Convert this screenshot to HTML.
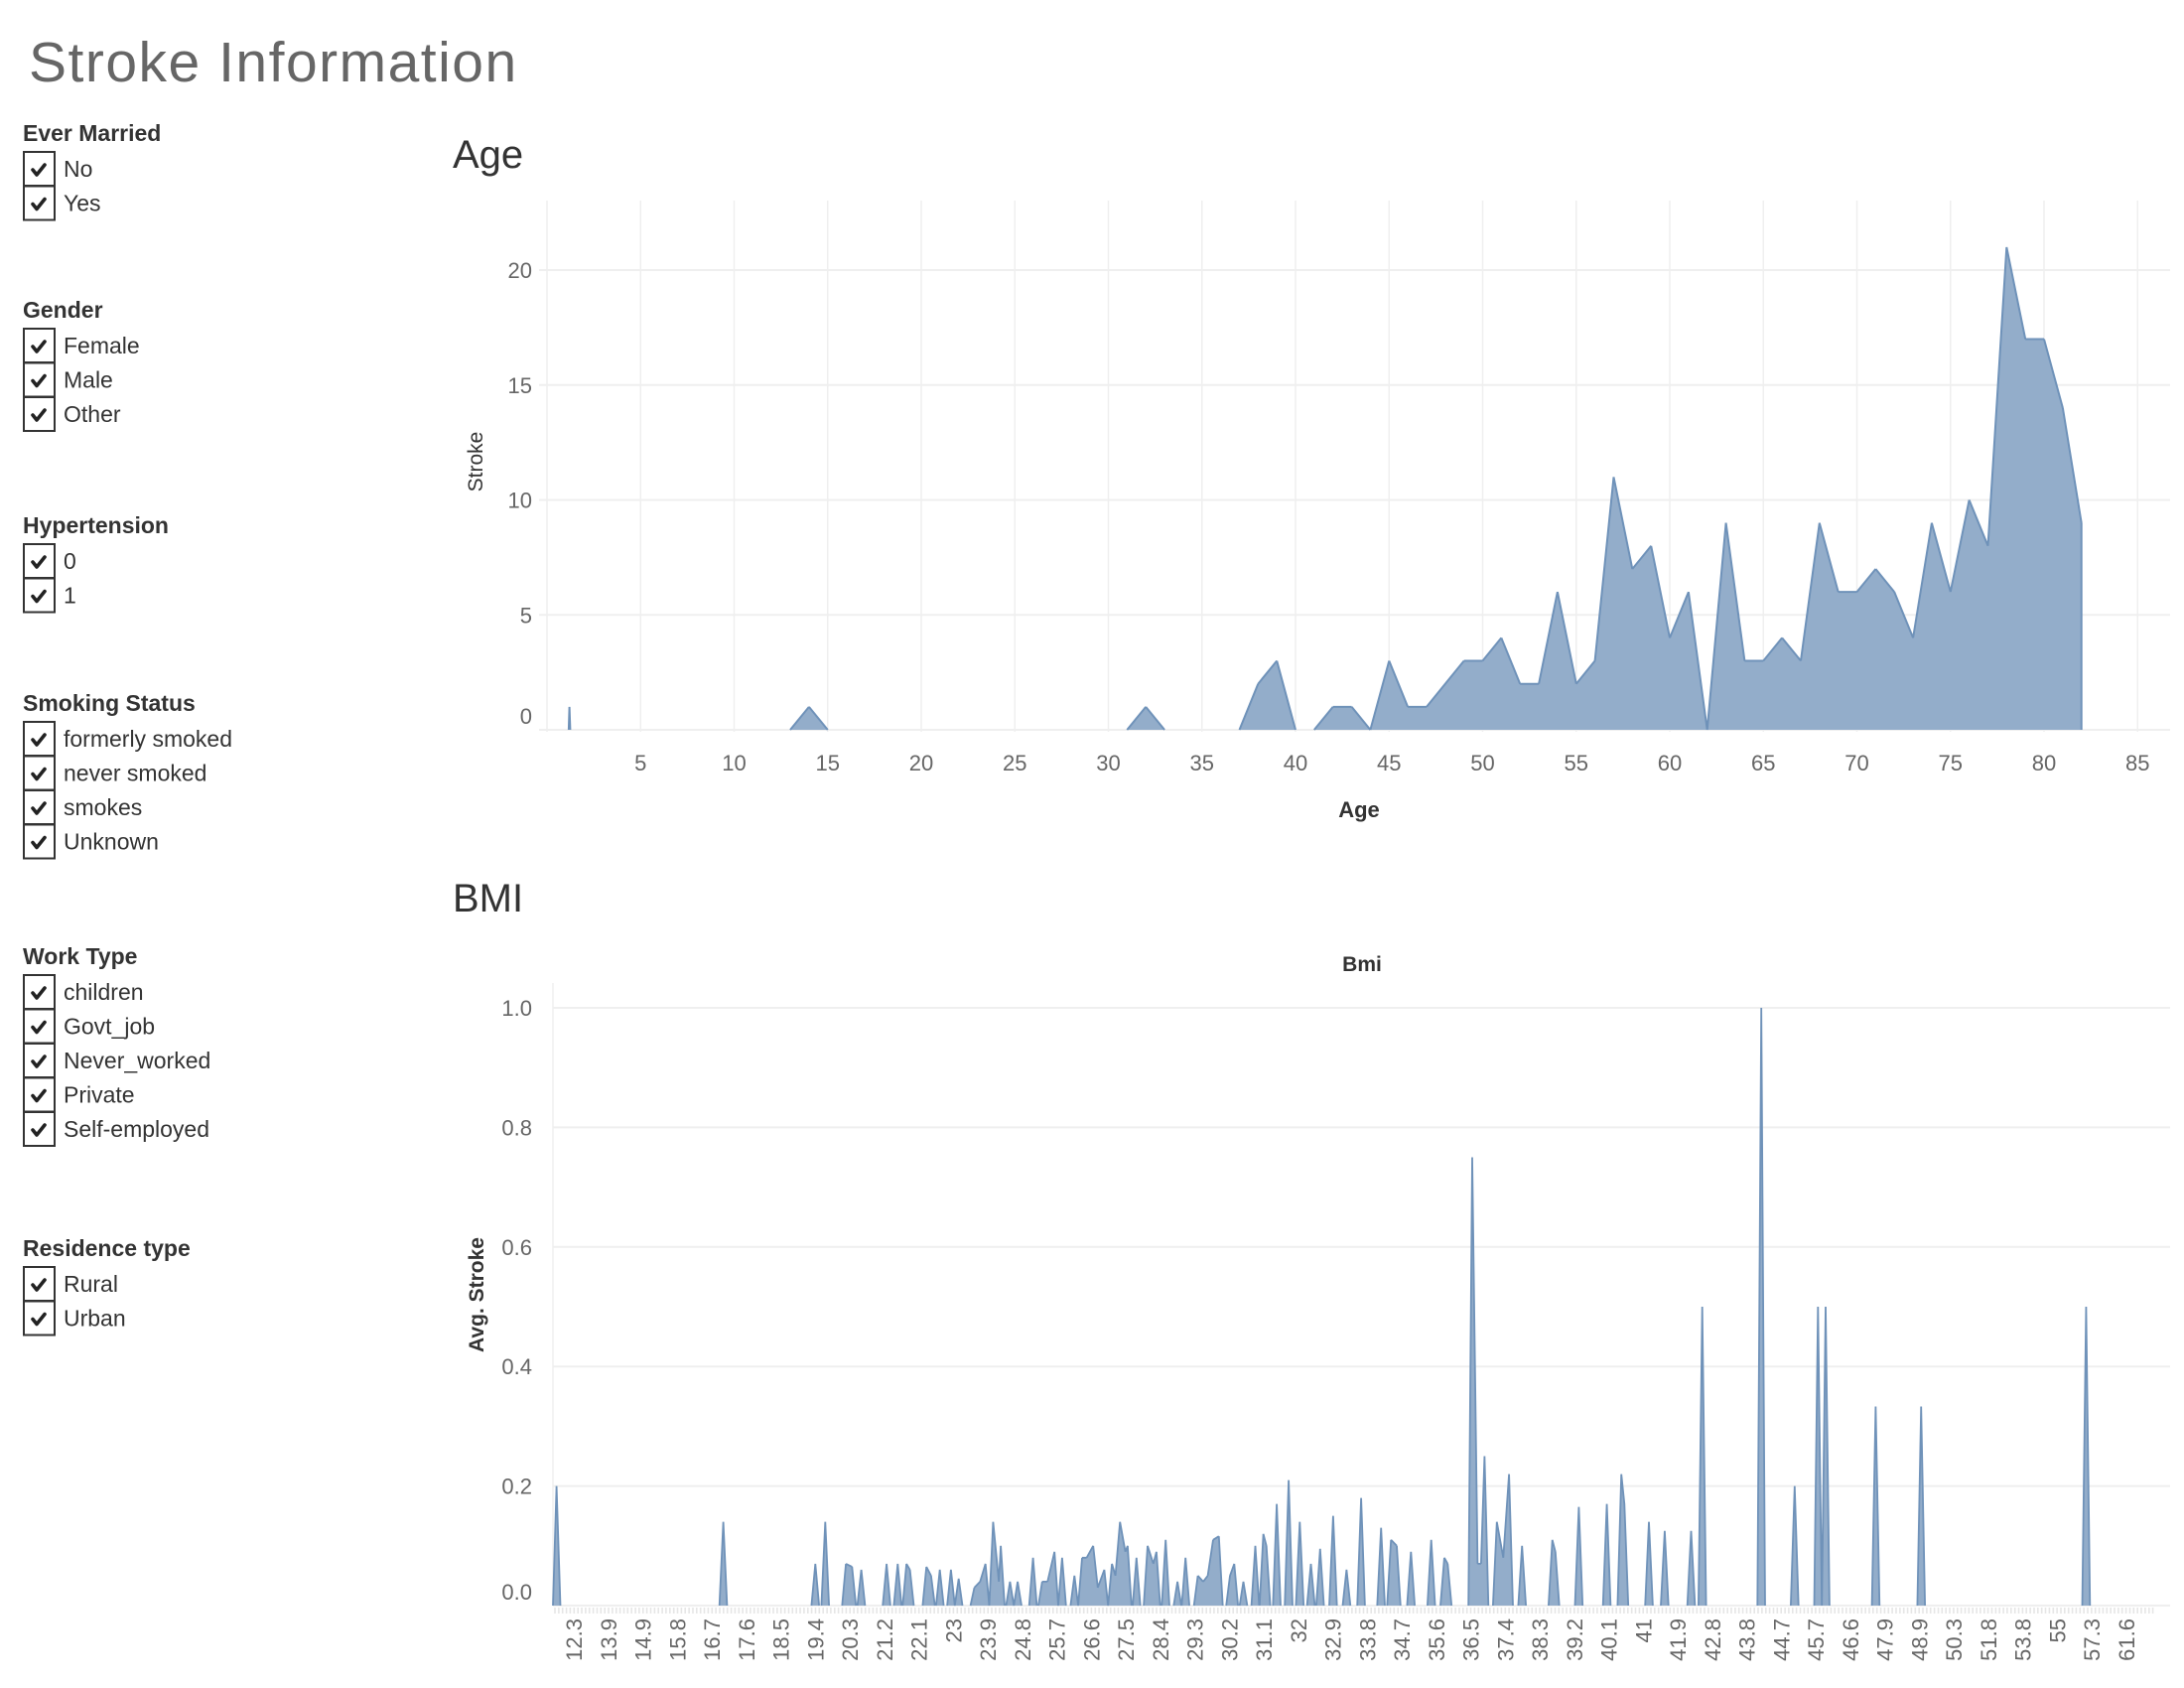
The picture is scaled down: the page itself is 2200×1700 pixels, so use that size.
<!DOCTYPE html>
<html><head><meta charset="utf-8"><style>
body{margin:0;background:#fff;}
svg{display:block;font-family:"Liberation Sans",sans-serif;}
</style></head><body>
<svg id="root" width="2200" height="1700" viewBox="0 0 2200 1700" xmlns="http://www.w3.org/2000/svg">
<text x="29" y="82" font-size="57" fill="#666" letter-spacing="1.5">Stroke Information</text>
<g id="filters"></g>
<text x="456" y="169" font-size="40" fill="#333">Age</text>
<g id="age"></g>
<text x="456" y="918" font-size="40" fill="#333">BMI</text>
<g id="bmi"></g>
</svg>
<script>
const ageCats = [1.16,1.2,1.24, 13,14,15, 31,32,33, 37,38,39,40, 41,42,43,44,
 45,46,47,48,49,50,51,52,53,54,55,56,57,58,59,60,61,62,63,64,65,66,67,68,69,70,71,72,73,74,75,76,77,78,79,80,81,82];
const ageStroke = [0,1,0, 0,1,0, 0,1,0, 0,2,3,0, 0,1,1,0,
 3,1,1,2,3,3,4,2,2,6,2,3,11,7,8,4,6,0,9,3,3,4,3,9,6,6,7,6,4,9,6,10,8,21,17,17,14,9];
const ageXTicks = [5,10,15,20,25,30,35,40,45,50,55,60,65,70,75,80,85];
const ageYTicks = [0,5,10,15,20];

const bmiTickLabels = [12.3,13.9,14.9,15.8,16.7,17.6,18.5,19.4,20.3,21.2,22.1,23,23.9,24.8,25.7,26.6,27.5,28.4,29.3,30.2,31.1,32,32.9,33.8,34.7,35.6,36.5,37.4,38.3,39.2,40.1,41,41.9,42.8,43.8,44.7,45.7,46.6,47.9,48.9,50.3,51.8,53.8,55,57.3,61.6];
const bmiYTicks = [0,0.2,0.4,0.6,0.8,1.0];
const bmiVals = [11.5,17.0,19.4,19.66,20.2,20.36,20.6,21.26,21.55,21.78,21.87,22.3,22.42,22.65,22.94,23.14,23.55,23.7,23.84,24.04,24.19,24.24,24.48,24.68,25.08,25.32,25.46,25.64,25.84,26.16,26.36,26.48,26.65,26.77,26.94,27.14,27.23,27.35,27.49,27.55,27.78,28.07,28.22,28.3,28.54,28.85,29.06,29.38,29.52,29.64,29.78,29.93,30.22,30.33,30.57,30.88,31.09,31.17,31.44,31.75,32.04,32.33,32.57,32.91,33.26,33.64,34.16,34.42,34.57,34.94,35.47,35.81,35.9,36.54,36.68,36.77,36.86,37.18,37.35,37.5,37.84,38.63,38.71,39.32,40.05,40.43,40.51,41.15,41.56,42.25,42.54,44.18,45.09,45.76,45.96,47.56,48.98,56.93];
const bmiStroke = [0.2,0.14,0.07,0.14,0.07,0.065,0.06,0.07,0.07,0.07,0.06,0.065,0.05,0.06,0.06,0.045,0.03,0.04,0.07,0.14,0.04,0.1,0.04,0.04,0.08,0.04,0.04,0.09,0.08,0.05,0.08,0.08,0.1,0.03,0.06,0.07,0.05,0.14,0.09,0.1,0.08,0.1,0.07,0.09,0.11,0.04,0.08,0.05,0.04,0.05,0.11,0.116,0.05,0.07,0.04,0.1,0.12,0.1,0.17,0.21,0.14,0.07,0.095,0.15,0.06,0.18,0.13,0.11,0.1,0.09,0.11,0.08,0.07,0.75,0.07,0.07,0.25,0.14,0.08,0.22,0.1,0.11,0.09,0.165,0.17,0.22,0.17,0.14,0.125,0.125,0.5,1.0,0.2,0.5,0.5,0.333,0.333,0.5];

const filterGroups = [
 ["Ever Married",142,["No","Yes"]],
 ["Gender",320,["Female","Male","Other"]],
 ["Hypertension",537,["0","1"]],
 ["Smoking Status",716,["formerly smoked","never smoked","smokes","Unknown"]],
 ["Work Type",971,["children","Govt_job","Never_worked","Private","Self-employed"]],
 ["Residence type",1265,["Rural","Urban"]]
];

const NS="http://www.w3.org/2000/svg";
function mk(tag,attrs,parent,txt){const e=document.createElementNS(NS,tag);for(const k in attrs)e.setAttribute(k,attrs[k]);if(txt!==undefined)e.textContent=txt;parent.appendChild(e);return e;}
const FILL="#93adca",LINE="#6f92b9",GRID="#efefef",TICK="#666";
function lineD(pts,base){
  let d='';
  for(let i=0;i<pts.length-1;i++){
    const a=pts[i],b=pts[i+1];
    if(Math.abs(a[1]-base)<0.01 && Math.abs(b[1]-base)<0.01) continue;
    d+=`M${a[0].toFixed(1)} ${a[1].toFixed(1)} L${b[0].toFixed(1)} ${b[1].toFixed(1)} `;
  }
  return d;
}

// filters
const fg=document.getElementById('filters');
filterGroups.forEach(g=>{
  const h=mk('text',{x:23,y:g[1],'font-size':23,'font-weight':'bold',fill:'#333'},fg,g[0]);
  
  
  g[2].forEach((it,i)=>{
    const top=g[1]+11+i*34.5;
    const row=mk('g',{},fg);
    
    
    const box=mk('rect',{x:24,y:top,width:31,height:34,fill:'#fff',stroke:'#333','stroke-width':2},row);
    
    
    const ck=mk('path',{d:`M${33} ${top+18} l4 5 l8 -10`,fill:'none',stroke:'#222','stroke-width':3.6,'stroke-linecap':'round','stroke-linejoin':'round'},row);
    
    
    const t=mk('text',{x:64,y:top+25,'font-size':23,fill:'#333'},row,it);
    
    
  });
});

// age chart
const ag=document.getElementById('age');
const ax=a=>551+a*18.85, ay=v=>735-v*23.15;
ageXTicks.concat([0]).forEach(a=>{
  const l=mk('line',{x1:ax(a),x2:ax(a),y1:202,y2:737,stroke:GRID,'stroke-width':1.5},ag);
  
  
});
ageYTicks.forEach(v=>{
  const l=mk('line',{x1:543,x2:2186,y1:ay(v),y2:ay(v),stroke:GRID,'stroke-width':2},ag);
  
  
  const t=mk('text',{x:536,y:ay(v)+(v===0?-14:0)+8,'font-size':22,fill:TICK,'text-anchor':'end'},ag,String(v));
  
  
});
ageXTicks.forEach(a=>{
  const t=mk('text',{x:ax(a),y:776,'font-size':22,fill:TICK,'text-anchor':'middle'},ag,String(a));
  
  
});
{
  let pts=ageCats.map((a,i)=>[ax(a),ay(ageStroke[i])]);
  const first=pts[0],last=pts[pts.length-1];
  const poly=[[first[0],ay(0)]].concat(pts,[[last[0],ay(0)]]);
  const area=mk('path',{d:'M'+poly.map(p=>p[0].toFixed(1)+' '+p[1].toFixed(1)).join(' L')+' Z',fill:FILL,stroke:'none'},ag);
  
  
  const ln=mk('path',{d:lineD(poly,ay(0)),fill:'none',stroke:LINE,'stroke-width':2,'stroke-linejoin':'round'},ag);
  
  
}
let t1=mk('text',{x:0,y:0,'font-size':21,fill:'#333','text-anchor':'middle',transform:'translate(486,465) rotate(-90)'},ag,'Stroke');


t1=mk('text',{x:1369,y:823,'font-size':22,'font-weight':'bold',fill:'#333','text-anchor':'middle'},ag,'Age');



// bmi chart
const bg=document.getElementById('bmi');
function bx(b){
  const L=bmiTickLabels;let i=0;
  if(b<=L[0]) i=0; else { while(i<L.length-2 && b>L[i+1]) i++; }
  const idx=i+(b-L[i])/(L[i+1]-L[i]);
  return 578+idx*34.75;
}
const by=v=>1617-v*602;
bmiYTicks.forEach(v=>{
  const l=mk('line',{x1:557,x2:2186,y1:by(v),y2:by(v),stroke:GRID,'stroke-width':2},bg);
  
  
  const t=mk('text',{x:536,y:by(v)+(v===0?-14:0)+8,'font-size':22,fill:TICK,'text-anchor':'end'},bg,v.toFixed(1));
  
  
});
{
  const l=mk('line',{x1:557,x2:557,y1:990,y2:1617,stroke:GRID,'stroke-width':1.5},bg);
  
  
  let d='';
  for(let x=559;x<2172;x+=3.86){d+=`M${x.toFixed(1)} 1619 V1625 `;}
  const tk=mk('path',{d:d,stroke:'#e6e6e6','stroke-width':1.6},bg);
  
  
}
bmiTickLabels.forEach((b,i)=>{
  const x=578+i*34.75;
  const t=mk('text',{x:0,y:0,'font-size':22,fill:TICK,'text-anchor':'end',transform:`translate(${x+8},1630) rotate(-90)`},bg,String(b));
  
  
});
{
  const step=3.86;const pts=[];
  const xs=bmiVals.map(bx);
  xs.forEach((x,i)=>{
    if(i===0 || x-xs[i-1]>step*2) pts.push([Math.max(557,x-step),by(0)]);
    pts.push([x,by(bmiStroke[i])]);
    if(i===xs.length-1 || xs[i+1]-x>step*2) pts.push([x+step,by(0)]);
  });
  const d='M'+pts.map(p=>p[0].toFixed(1)+' '+p[1].toFixed(1)).join(' L');
  const area=mk('path',{d:d+' Z',fill:FILL,stroke:'none'},bg);
  
  
  const ln=mk('path',{d:lineD(pts,by(0)),fill:'none',stroke:LINE,'stroke-width':1.8,'stroke-linejoin':'round'},bg);
  
  
}
t1=mk('text',{x:1372,y:978,'font-size':21,'font-weight':'bold',fill:'#333','text-anchor':'middle'},bg,'Bmi');


t1=mk('text',{x:0,y:0,'font-size':21,'font-weight':'bold',fill:'#333','text-anchor':'middle',transform:'translate(487,1304) rotate(-90)'},bg,'Avg. Stroke');


</script>
</body></html>
